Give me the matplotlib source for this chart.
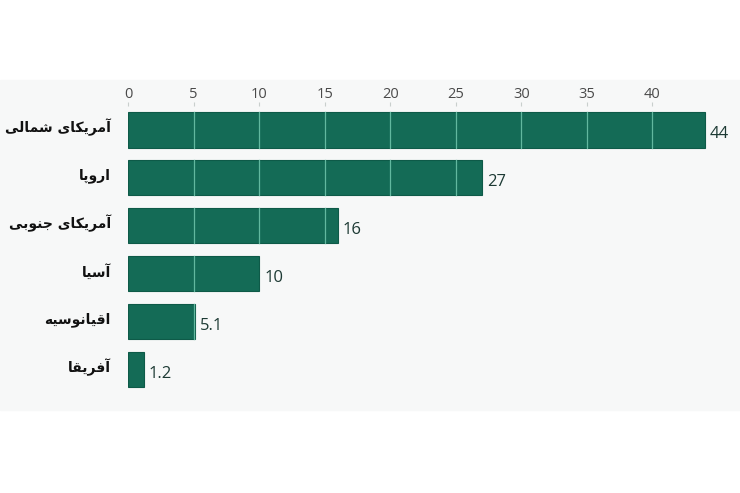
import matplotlib.pyplot as plt
from matplotlib.patches import Rectangle

# داده‌ها
regions = ["آمریکای شمالی", "اروپا", "آمریکای جنوبی", "آسیا", "اقیانوسیه", "آفریقا"]
values = [44, 27, 16, 10, 5.1, 1.2]
value_labels = ["44", "27", "16", "10", "5.1", "1.2"]
ticks = [0, 5, 10, 15, 20, 25, 30, 35, 40]

# شکل‌دهی ساده حروف فارسی (matplotlib خودش اتصال حروف را انجام نمی‌دهد)
# (isolated, final, initial, medial) ; None for letters joining only to the right
FORMS = {
    "آ": ("\uFE81", "\uFE82", None, None),
    "ا": ("\uFE8D", "\uFE8E", None, None),
    "ر": ("\uFEAD", "\uFEAE", None, None),
    "و": ("\uFEED", "\uFEEE", None, None),
    "م": ("\uFEE1", "\uFEE2", "\uFEE3", "\uFEE4"),
    "ی": ("\uFBFC", "\uFBFD", "\uFBFE", "\uFBFF"),
    "ک": ("\uFB8E", "\uFB8F", "\uFB90", "\uFB91"),
    "ش": ("\uFEB5", "\uFEB6", "\uFEB7", "\uFEB8"),
    "ل": ("\uFEDD", "\uFEDE", "\uFEDF", "\uFEE0"),
    "پ": ("\uFB56", "\uFB57", "\uFB58", "\uFB59"),
    "ج": ("\uFE9D", "\uFE9E", "\uFE9F", "\uFEA0"),
    "ن": ("\uFEE5", "\uFEE6", "\uFEE7", "\uFEE8"),
    "ب": ("\uFE8F", "\uFE90", "\uFE91", "\uFE92"),
    "س": ("\uFEB1", "\uFEB2", "\uFEB3", "\uFEB4"),
    "ق": ("\uFED5", "\uFED6", "\uFED7", "\uFED8"),
    "ه": ("\uFEE9", "\uFEEA", "\uFEEB", "\uFEEC"),
    "ف": ("\uFED1", "\uFED2", "\uFED3", "\uFED4"),
}


def shape(text):
    out = []
    for word in text.split(" "):
        chars = []
        for i, c in enumerate(word):
            if c not in FORMS:
                chars.append(c)
                continue
            prev = word[i - 1] if i > 0 else None
            nxt = word[i + 1] if i < len(word) - 1 else None
            joins_prev = prev in FORMS and FORMS[prev][2] is not None
            dual = FORMS[c][2] is not None
            joins_next = dual and nxt in FORMS
            iso, fin, ini, med = FORMS[c]
            if joins_prev and joins_next:
                chars.append(med)
            elif joins_prev:
                chars.append(fin)
            elif joins_next:
                chars.append(ini)
            else:
                chars.append(iso)
        out.append("".join(reversed(chars)))
    return " ".join(reversed(out))


bar_color = "#146b56"

fig = plt.figure(figsize=(7.4, 4.93), dpi=100)
fig.patches.append(Rectangle((0, 0.168), 1, 0.67, transform=fig.transFigure,
                             color="#f7f8f8", zorder=-10))
ax = fig.add_axes([0.173, 0.201, 0.79, 0.584])
ax.set_facecolor("none")

y = list(range(len(regions)))
bh = 0.73
ax.barh(y, values, height=bh, color=bar_color, edgecolor="#0e5a48", linewidth=0.8, zorder=2)

# خطوط راهنما فقط روی میله‌ها
for yi, v in zip(y, values):
    for t in ticks[1:]:
        if t < v:
            ax.plot([t, t], [yi - bh / 2, yi + bh / 2], color="#62b89f", lw=0.9, zorder=3)
    ax.text(v + 0.4, yi + 0.08, value_labels[yi], va="center", ha="left",
            fontsize=12, color="#1d3a34", family="Open Sans")

ax.set_ylim(len(regions) - 0.5, -0.5)
ax.set_xlim(0, 44.6)
ax.set_xticks(ticks)
ax.xaxis.tick_top()
ax.tick_params(axis="x", length=3, width=0.8, color="#c9cfcd", labelsize=10.5,
               labelcolor="#4a4a4a", pad=0)
for lab in ax.get_xticklabels():
    lab.set_family("Open Sans")
ax.set_yticks([])
for s in ax.spines.values():
    s.set_visible(False)

for yi, r in zip(y, regions):
    ax.text(-1.3, yi - 0.05, shape(r), ha="right", va="center", fontsize=10,
            fontweight="bold", color="#111111", family="DejaVu Sans")

fig.savefig("out.png", dpi=100)
